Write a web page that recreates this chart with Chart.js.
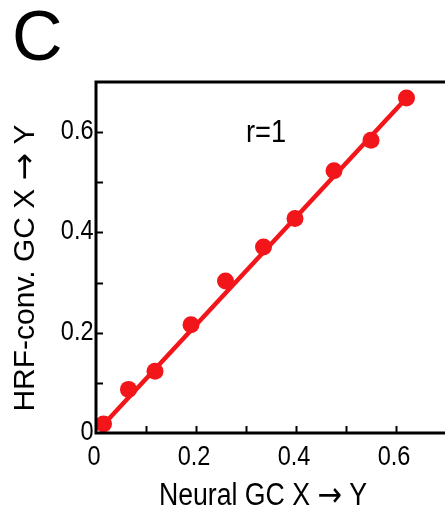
<!DOCTYPE html>
<html>
<head>
<meta charset="utf-8">
<script src="https://cdn.jsdelivr.net/npm/chart.js@4"></script>
<style>
  html, body { margin: 0; padding: 0; background: #fff; overflow: hidden; }
  canvas { display: block; }
</style>
</head>
<body>
<canvas id="gcChart" width="445" height="508"></canvas>
<script>
// Neural GC vs HRF-convolved GC, X -> Y
const neuralGC = [0.015, 0.065, 0.118, 0.19, 0.259, 0.335, 0.398, 0.476, 0.55, 0.621];
const hrfGC = [0.018, 0.087, 0.123, 0.216, 0.303, 0.371, 0.428, 0.523, 0.584, 0.668];

// fitted line end points
const fitX = [0.005, 0.621];
const fitY = [0.006, 0.668];

// inward tick marks every 0.1, labels every 0.2
const tickValues = [0.1, 0.2, 0.3, 0.4, 0.5, 0.6];
const labelValues = [0, 0.2, 0.4, 0.6];
const tickLabels = ['0', '0.2', '0.4', '0.6'];

const RED = '#f2161a';
const FONT = '"Liberation Sans", Arial, sans-serif';
const ARROW_FONT = '"DejaVu Sans", sans-serif';

// draws a row of text pieces (mixed fonts), squeezed horizontally by sx
function drawRun(ctx, parts, x, y, sx, align) {
  let total = 0;
  parts.forEach(p => { ctx.font = p.font; p.w = ctx.measureText(p.text).width; total += p.w; });
  let start = 0;
  if (align === 'center') start = -total / 2;
  if (align === 'right') start = -total;
  ctx.save();
  ctx.translate(x, y);
  ctx.scale(sx, 1);
  let cx = start;
  parts.forEach(p => {
    ctx.font = p.font;
    ctx.fillText(p.text, cx + (p.dx || 0), p.dy || 0);
    cx += p.w;
  });
  ctx.restore();
}

// axis frame (open at the right edge), inward ticks, labels and titles
const decorations = {
  id: 'decorations',
  afterDatasetsDraw(chart) {
    const { ctx, chartArea: a, scales: { x, y } } = chart;
    ctx.save();
    ctx.strokeStyle = '#000';
    ctx.lineWidth = 2;
    tickValues.forEach(v => {
      const px = Math.round(x.getPixelForValue(v)) + 0.5;
      ctx.beginPath();
      ctx.moveTo(px, a.bottom);
      ctx.lineTo(px, a.bottom - 7);
      ctx.stroke();
      const py = Math.round(y.getPixelForValue(v)) + 0.5;
      ctx.beginPath();
      ctx.moveTo(a.left, py);
      ctx.lineTo(a.left + 7, py);
      ctx.stroke();
    });
    ctx.lineWidth = 3;
    ctx.beginPath();
    ctx.moveTo(chart.width, a.top);
    ctx.lineTo(a.left, a.top);
    ctx.lineTo(a.left, a.bottom);
    ctx.lineTo(chart.width, a.bottom);
    ctx.stroke();
    ctx.restore();
  },
  afterDraw(chart) {
    const { ctx, scales: { x, y } } = chart;
    ctx.save();
    ctx.fillStyle = '#000';
    ctx.textBaseline = 'alphabetic';

    const tickFont = '28px ' + FONT;
    labelValues.forEach((v, i) => {
      drawRun(ctx, [{ text: tickLabels[i], font: tickFont }],
        x.getPixelForValue(v) - 2, 465, 0.84, 'center');
      drawRun(ctx, [{ text: tickLabels[i], font: tickFont }],
        93.5, y.getPixelForValue(v) + 7, 0.84, 'right');
    });

    drawRun(ctx, [{ text: 'r=1', font: '31px ' + FONT }], 266, 142, 0.88, 'center');

    const titleFont = '31px ' + FONT;
    const arrowFont = '34px ' + ARROW_FONT;
    drawRun(ctx, [
      { text: 'Neural GC X ', font: titleFont },
      { text: '\u2192', font: arrowFont, dy: 1 },
      { text: ' Y', font: titleFont }
    ], 263, 505, 0.86, 'center');

    ctx.save();
    ctx.translate(34, 268);
    ctx.rotate(-Math.PI / 2);
    drawRun(ctx, [
      { text: 'HRF-conv. GC X ', font: '30px ' + FONT },
      { text: '\u2192', font: '33px ' + ARROW_FONT, dy: 1 },
      { text: ' Y', font: '30px ' + FONT }
    ], 0, 0, 1, 'center');
    ctx.restore();

    ctx.font = '70px ' + FONT;
    ctx.fillText('C', 12, 60);
    ctx.restore();
  }
};

const ctx = document.getElementById('gcChart').getContext('2d');
const gcChart = new Chart(ctx, {
  type: 'scatter',
  data: {
    datasets: [
      {
        data: fitX.map((v, i) => ({ x: v, y: fitY[i] })),
        showLine: true,
        borderColor: RED,
        borderWidth: 4.5,
        pointRadius: 0,
        clip: false
      },
      {
        data: neuralGC.map((v, i) => ({ x: v, y: hrfGC[i] })),
        backgroundColor: RED,
        borderColor: RED,
        borderWidth: 0,
        pointRadius: 8.5,
        clip: false
      }
    ]
  },
  options: {
    responsive: false,
    animation: false,
    layout: { autoPadding: false, padding: { left: 0, top: 82, right: 0, bottom: 0 } },
    plugins: {
      legend: { display: false },
      tooltip: { enabled: false }
    },
    scales: {
      x: {
        type: 'linear',
        min: 0,
        max: 0.698,
        grid: { drawOnChartArea: false, drawTicks: false },
        border: { display: false },
        ticks: { display: false },
        afterFit: (scale) => { scale.height = 75; scale.paddingLeft = 0; scale.paddingRight = 0; }
      },
      y: {
        type: 'linear',
        min: 0,
        max: 0.7,
        grid: { drawOnChartArea: false, drawTicks: false },
        border: { display: false },
        ticks: { display: false },
        afterFit: (scale) => { scale.width = 96; scale.paddingTop = 0; scale.paddingBottom = 0; }
      }
    }
  },
  plugins: [decorations]
});
</script>
</body>
</html>
